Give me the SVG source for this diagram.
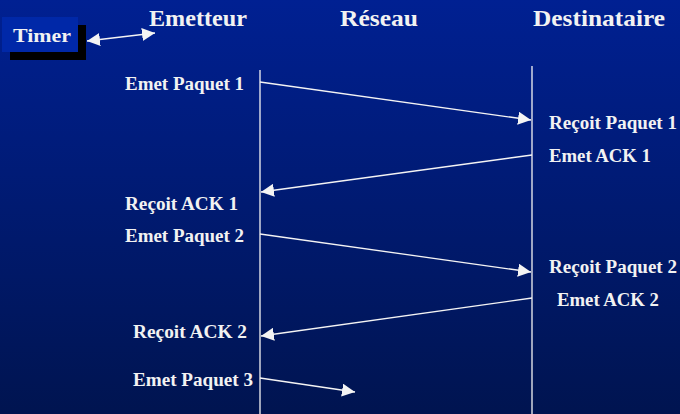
<svg xmlns="http://www.w3.org/2000/svg" width="680" height="414" viewBox="0 0 680 414">
  <defs>
    <linearGradient id="bg" x1="0" y1="0" x2="0" y2="1">
      <stop offset="0" stop-color="#002092"/>
      <stop offset="1" stop-color="#001450"/>
    </linearGradient>
    <marker id="arrow" viewBox="0 0 10 10" refX="10" refY="5" markerWidth="13" markerHeight="13" markerUnits="userSpaceOnUse" orient="auto-start-reverse">
      <path d="M0,0 L10,5 L0,10 z" fill="#f4f4f4"/>
    </marker>
    <style>
      .t { font-family: "Liberation Serif", "DejaVu Serif", serif; font-weight: bold; fill: #f2f2f2; }
      .head { font-size: 23px; }
      .lbl { font-size: 18px; }
      .ln { stroke: #f4f4f4; stroke-width: 1.3; fill: none; }
    </style>
  </defs>

  <rect width="680" height="414" fill="url(#bg)"/>

  <!-- timer box with drop shadow -->
  <g id="timer">
    <rect x="10" y="25" width="76" height="35" fill="#000000"/>
    <rect x="2" y="17" width="76" height="35" fill="#0028a8"/>
    <text class="t" x="13" y="42" font-size="19" textLength="58" lengthAdjust="spacingAndGlyphs">Timer</text>
  </g>

  <!-- column headings -->
  <g id="emetteur"><text class="t head" x="149" y="26" textLength="98" lengthAdjust="spacingAndGlyphs">Emetteur</text></g>
  <g id="reseau"><text class="t head" x="340" y="26" textLength="78" lengthAdjust="spacingAndGlyphs">Réseau</text></g>
  <g id="destinataire"><text class="t head" x="533" y="26" textLength="132" lengthAdjust="spacingAndGlyphs">Destinataire</text></g>

  <!-- step labels -->
  <g id="labels">
    <text class="t lbl" x="125" y="90" textLength="119" lengthAdjust="spacingAndGlyphs">Emet Paquet 1</text>
    <text class="t lbl" x="549" y="129" textLength="128" lengthAdjust="spacingAndGlyphs">Reçoit Paquet 1</text>
    <text class="t lbl" x="549" y="162" textLength="102" lengthAdjust="spacingAndGlyphs">Emet ACK 1</text>
    <text class="t lbl" x="125" y="210" textLength="113" lengthAdjust="spacingAndGlyphs">Reçoit ACK 1</text>
    <text class="t lbl" x="125" y="242" textLength="119" lengthAdjust="spacingAndGlyphs">Emet Paquet 2</text>
    <text class="t lbl" x="549" y="273" textLength="128" lengthAdjust="spacingAndGlyphs">Reçoit Paquet 2</text>
    <text class="t lbl" x="557" y="306" textLength="102" lengthAdjust="spacingAndGlyphs">Emet ACK 2</text>
    <text class="t lbl" x="133" y="338" textLength="114" lengthAdjust="spacingAndGlyphs">Reçoit ACK 2</text>
    <text class="t lbl" x="133" y="386" textLength="120" lengthAdjust="spacingAndGlyphs">Emet Paquet 3</text>
  </g>

  <!-- timelines and messages -->
  <g id="connectors">
    <line class="ln" x1="260" y1="70" x2="260" y2="414"/>
    <line class="ln" x1="532" y1="66" x2="532" y2="414"/>
    <line class="ln" x1="87" y1="41" x2="155" y2="33" marker-start="url(#arrow)" marker-end="url(#arrow)"/>
    <line class="ln" x1="260" y1="82" x2="531" y2="120" marker-end="url(#arrow)"/>
    <line class="ln" x1="532" y1="155" x2="261" y2="192" marker-end="url(#arrow)"/>
    <line class="ln" x1="260" y1="234" x2="531" y2="272" marker-end="url(#arrow)"/>
    <line class="ln" x1="532" y1="298" x2="261" y2="336" marker-end="url(#arrow)"/>
    <line class="ln" x1="260" y1="378" x2="355" y2="392" marker-end="url(#arrow)"/>
  </g>
</svg>
